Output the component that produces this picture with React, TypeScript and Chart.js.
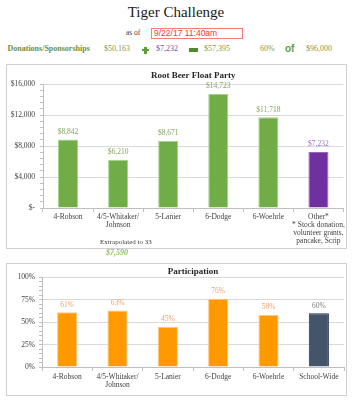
import React, { useEffect, useRef } from 'react';
import { Chart, registerables } from 'chart.js';

Chart.register(...registerables);

// ---- data ----
const floatCategories: (string | string[])[] = [
  '4-Robson',
  ['4/5-Whitaker/', 'Johnson'],
  '5-Lanier',
  '6-Dodge',
  '6-Woehrle',
  ['Other*', '* Stock donation,', 'volunteer grants,', 'pancake, Scrip'],
];
const floatValues = [8842, 6210, 8671, 14723, 11718, 7232];
const floatMajorTicks = [0, 4000, 8000, 12000, 16000];

const participationCategories: (string | string[])[] = [
  '4-Robson',
  ['4/5-Whitaker/', 'Johnson'],
  '5-Lanier',
  '6-Dodge',
  '6-Woehrle',
  'School-Wide',
];
const participationValues = [61, 63, 45, 76, 58, 60];
const participationMajorTicks = [0, 25, 50, 75, 100];

const headerTitle = 'Tiger Challenge';
const asOfText = '9/22/17 11:40am';
const donationsLabel = 'Donations/Sponsorships';
const donationsValue = '$50,163';
const otherValue = '$7,232';
const totalValue = '$57,395';
const percentValue = '60%';
const goalValue = '$96,000';
const extrapolatedNote = 'Extrapolated to 33';
const extrapolatedValue = '$7,590';

// ---- styles ----
const SERIF = '"Liberation Serif", "Times New Roman", serif';
const SANS = '"Liberation Sans", Arial, sans-serif';

const floatColors = ['#70ad47', '#70ad47', '#70ad47', '#70ad47', '#70ad47', '#7030a0'];
const floatBorders = ['#a9d18e', '#a9d18e', '#a9d18e', '#a9d18e', '#a9d18e', '#9466bd'];
const floatLabelColors = ['#82a35f', '#82a35f', '#82a35f', '#82a35f', '#82a35f', '#9a72c0'];

const partColors = ['#ff9900', '#ff9900', '#ff9900', '#ff9900', '#ff9900', '#44546a'];
const partBorders = ['#ffc680', '#ffc680', '#ffc680', '#ffc680', '#ffc680', '#1f3050'];
const partLabelColors = ['#f5a070', '#f5a070', '#f5a070', '#f5a070', '#f5a070', '#808080'];

function labelPlugin(id: string, format: (v: number) => string, colors: string[]) {
  return {
    id,
    afterDatasetsDraw(chart: any) {
      const ctx = chart.ctx;
      const meta = chart.getDatasetMeta(0);
      const data = chart.data.datasets[0].data as number[];
      ctx.save();
      ctx.font = `7.5px ${SERIF}`;
      ctx.textAlign = 'center';
      ctx.textBaseline = 'middle';
      meta.data.forEach((bar: any, i: number) => {
        ctx.fillStyle = colors[i];
        ctx.fillText(format(data[i]), bar.x, bar.y - 7.5);
      });
      ctx.restore();
    },
  };
}

const tickFont = { family: SERIF, size: 7.5, lineHeight: 8 / 7.5 };

function floatConfig(): any {
  return {
    type: 'bar',
    data: {
      labels: floatCategories,
      datasets: [
        {
          data: floatValues,
          backgroundColor: floatColors,
          borderColor: floatBorders,
          borderWidth: 1,
          barPercentage: 0.4,
          categoryPercentage: 1,
        },
      ],
    },
    options: {
      responsive: false,
      animation: false,
      devicePixelRatio: 1,
      layout: { padding: { left: 0, right: 2, top: 0, bottom: 0 } },
      plugins: {
        legend: { display: false },
        tooltip: { enabled: false },
        title: {
          display: true,
          text: 'Root Beer Float Party',
          fullSize: false,
          color: '#262626',
          font: { family: SERIF, size: 9, weight: 'bold', lineHeight: 1.2 },
          padding: { top: 5, bottom: 3.2 },
        },
      },
      scales: {
        x: {
          grid: { drawOnChartArea: false, tickLength: 4, tickColor: '#bfbfbf', offset: true },
          border: { color: '#bfbfbf' },
          ticks: { color: '#404040', font: tickFont, padding: 1, maxRotation: 0, autoSkip: false },
          afterFit: (s: any) => {
            s.height = 40;
          },
        },
        y: {
          min: 0,
          max: 16000,
          ticks: {
            stepSize: 800,
            autoSkip: false,
            color: '#404040',
            font: tickFont,
            padding: 5,
            callback: (v: number) =>
              floatMajorTicks.includes(v) ? (v === 0 ? '$-' : '$' + v.toLocaleString('en-US')) : '',
          },
          grid: {
            color: (c: any) => (c.tick && floatMajorTicks.includes(c.tick.value) ? '#d9d9d9' : 'rgba(0,0,0,0)'),
            tickColor: '#bfbfbf',
            tickLength: 3,
          },
          border: { color: '#bfbfbf' },
          afterFit: (s: any) => {
            s.width = 36;
          },
        },
      },
    },
    plugins: [labelPlugin('floatLabels', (v) => '$' + v.toLocaleString('en-US'), floatLabelColors)],
  };
}

function partConfig(): any {
  return {
    type: 'bar',
    data: {
      labels: participationCategories,
      datasets: [
        {
          data: participationValues,
          backgroundColor: partColors,
          borderColor: partBorders,
          borderWidth: 1,
          barPercentage: 0.4,
          categoryPercentage: 1,
        },
      ],
    },
    options: {
      responsive: false,
      animation: false,
      devicePixelRatio: 1,
      layout: { padding: { left: 0, right: 2, top: 0, bottom: 0 } },
      plugins: {
        legend: { display: false },
        tooltip: { enabled: false },
        title: {
          display: true,
          text: 'Participation',
          fullSize: false,
          color: '#262626',
          font: { family: SERIF, size: 9, weight: 'bold', lineHeight: 1.2 },
          padding: { top: 2.5, bottom: 0 },
        },
      },
      scales: {
        x: {
          grid: { drawOnChartArea: false, tickLength: 4, tickColor: '#bfbfbf', offset: true },
          border: { color: '#bfbfbf' },
          ticks: { color: '#404040', font: tickFont, padding: 2, maxRotation: 0, autoSkip: false },
          afterFit: (s: any) => {
            s.height = 28;
          },
        },
        y: {
          min: 0,
          max: 100,
          ticks: {
            stepSize: 5,
            autoSkip: false,
            color: '#404040',
            font: tickFont,
            padding: 4,
            callback: (v: number) => (participationMajorTicks.includes(v) ? v + '%' : ''),
          },
          grid: {
            color: (c: any) =>
              c.tick && participationMajorTicks.includes(c.tick.value) ? '#d9d9d9' : 'rgba(0,0,0,0)',
            tickColor: '#bfbfbf',
            tickLength: 3,
          },
          border: { color: '#bfbfbf' },
          afterFit: (s: any) => {
            s.width = 35;
          },
        },
      },
    },
    plugins: [labelPlugin('partLabels', (v) => v + '%', partLabelColors)],
  };
}

function ChartBox(props: { left: number; top: number; width: number; height: number; config: () => any }) {
  const { left, top, width, height, config } = props;
  const ref = useRef<HTMLCanvasElement>(null);
  useEffect(() => {
    const chart = new Chart(ref.current as HTMLCanvasElement, config());
    return () => chart.destroy();
  }, []);
  const w = width - 2;
  const h = height - 2;
  return (
    <div
      style={{
        position: 'absolute',
        left,
        top,
        width,
        height,
        border: '1px solid #d0d0d0',
        boxSizing: 'border-box',
        background: '#fff',
      }}
    >
      <canvas ref={ref} width={w} height={h} style={{ display: 'block', width: w, height: h }} />
    </div>
  );
}

function Txt(props: {
  left: number;
  top: number;
  size: number;
  color: string;
  children: React.ReactNode;
  bold?: boolean;
  italic?: boolean;
  family?: string;
  lh?: number;
}) {
  const { left, top, size, color, bold, italic, family, lh } = props;
  return (
    <div
      style={{
        position: 'absolute',
        left,
        top,
        fontSize: size,
        lineHeight: (lh ?? 10) + 'px',
        color,
        fontWeight: bold ? 'bold' : 'normal',
        fontStyle: italic ? 'italic' : 'normal',
        fontFamily: family ?? SERIF,
        whiteSpace: 'nowrap',
      }}
    >
      {props.children}
    </div>
  );
}

export default function App() {
  return (
    <div
      style={{
        position: 'fixed',
        left: 0,
        top: 0,
        width: 357,
        height: 400,
        background: '#fff',
        overflow: 'hidden',
        fontFamily: SERIF,
      }}
    >
      <div
        style={{
          position: 'absolute',
          left: 0,
          top: 5,
          width: 352,
          textAlign: 'center',
          fontSize: 15,
          lineHeight: '15px',
          color: '#1a1a1a',
          fontFamily: SERIF,
        }}
      >
        {headerTitle}
      </div>
      <Txt left={126} top={27.5} size={7.5} color="#404040">
        as of
      </Txt>
      <div
        style={{
          position: 'absolute',
          left: 151,
          top: 28,
          width: 92,
          height: 11,
          border: '1px solid #ff7a7a',
          boxSizing: 'border-box',
          fontFamily: SANS,
          fontSize: 8.5,
          lineHeight: '9px',
          color: '#ff3030',
          paddingLeft: 2,
          whiteSpace: 'nowrap',
        }}
      >
        {asOfText}
      </div>

      <Txt left={7.5} top={44.3} size={8} color="#6f8f45" bold>
        {donationsLabel}
      </Txt>
      <Txt left={104} top={44.3} size={8} color="#7d9a55">
        {donationsValue}
      </Txt>
      {/* plus sign */}
      <div style={{ position: 'absolute', left: 142, top: 48.7, width: 7, height: 2.6, background: '#5e9e3a' }} />
      <div style={{ position: 'absolute', left: 144.2, top: 46.5, width: 2.6, height: 7, background: '#5e9e3a' }} />
      <Txt left={156} top={44.3} size={8} color="#7b4fa8">
        {otherValue}
      </Txt>
      {/* equals bar */}
      <div style={{ position: 'absolute', left: 189, top: 48.3, width: 8.5, height: 3.5, background: '#4e8a2e' }} />
      <Txt left={204} top={44.3} size={8} color="#7d9a55">
        {totalValue}
      </Txt>
      <Txt left={260} top={44.3} size={8} color="#7d9a55">
        {percentValue}
      </Txt>
      <Txt left={285} top={43} size={10} color="#5e9e35" bold family={SANS} lh={12}>
        of
      </Txt>
      <Txt left={306} top={44.3} size={8} color="#7d9a55">
        {goalValue}
      </Txt>

      <ChartBox left={6} top={64} width={341} height={185} config={floatConfig} />
      <Txt left={100} top={237} size={7} color="#404040">
        {extrapolatedNote}
      </Txt>
      <Txt left={106} top={248} size={8} color="#8fc05a" bold italic>
        {extrapolatedValue}
      </Txt>

      <ChartBox left={6} top={263} width={341} height={133} config={partConfig} />
    </div>
  );
}
